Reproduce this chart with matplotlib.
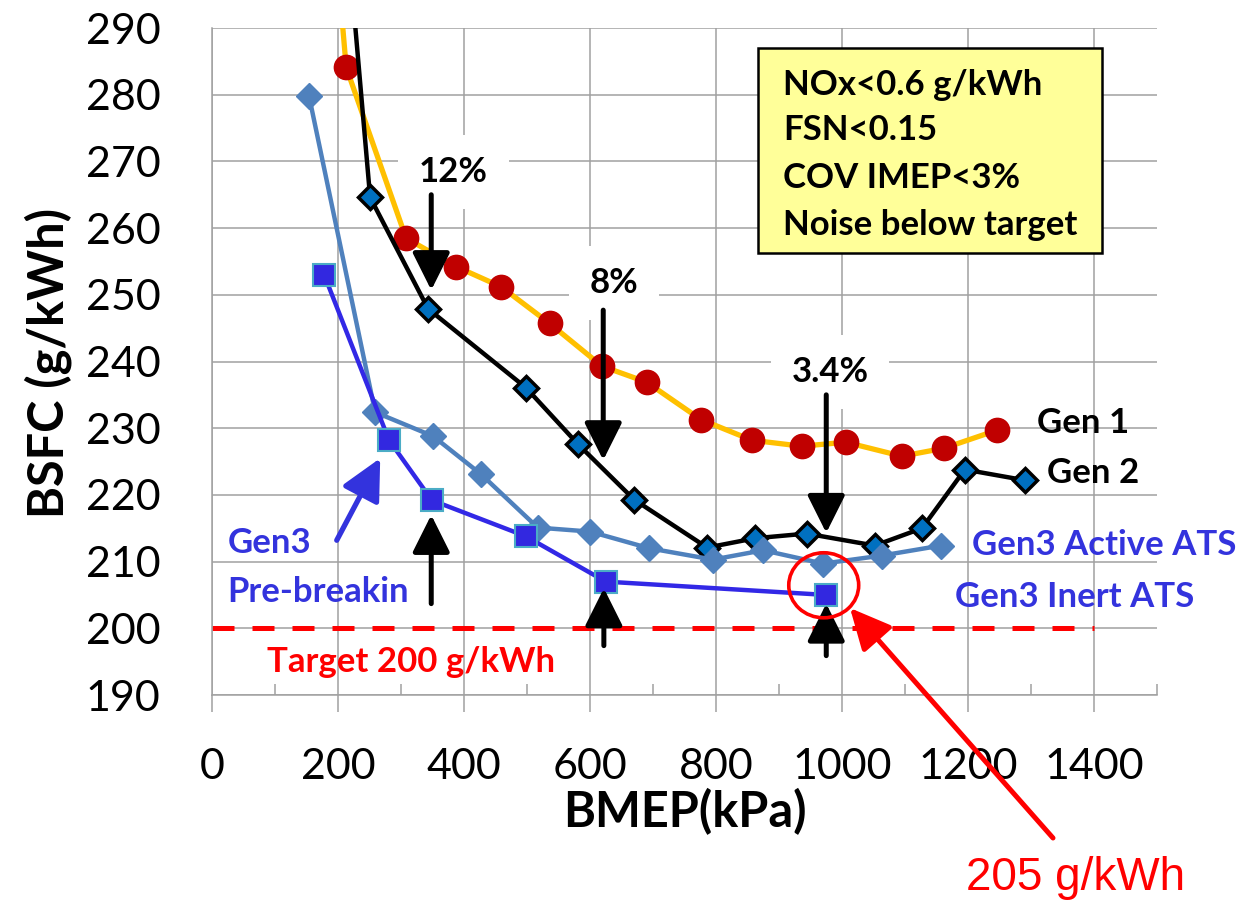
import matplotlib
matplotlib.use("Agg")
import matplotlib.pyplot as plt
from matplotlib.patches import Ellipse, Rectangle
from matplotlib.ticker import MultipleLocator

plt.rcParams['font.family'] = ['Lato', 'DejaVu Sans']

# BSFC vs BMEP for the engine generations
gen1_bmep = [185, 213, 308, 388, 459, 536, 619, 690, 776, 857, 936, 1006, 1095, 1162, 1246]
gen1_bsfc = [315, 284.1, 258.5, 254.2, 251.2, 245.7, 239.3, 236.9, 231.3, 228.2, 227.3, 227.9, 225.8, 227.0, 229.7]

gen2_bmep = [200, 251, 343, 498, 581, 670, 786, 862, 944, 1052, 1127, 1195, 1290]
gen2_bsfc = [320, 264.6, 247.9, 236.1, 227.6, 219.3, 212.1, 213.5, 214.2, 212.4, 215.0, 223.8, 222.2]

active_bmep = [154, 259, 351, 427, 517, 600, 694, 795, 875, 970, 1063, 1157]
active_bsfc = [279.8, 232.4, 228.8, 223.1, 215.1, 214.5, 212.0, 210.3, 211.7, 209.7, 210.9, 212.4]

inert_bmep = [178, 281, 349, 498, 625, 975]
inert_bsfc = [253.0, 228.2, 219.2, 213.8, 207.0, 205]

target_bmep = [0, 200, 400, 600, 800, 1000, 1200, 1400]
target_bsfc = [200] * len(target_bmep)

limits = ["NOx<0.6 g/kWh", "FSN<0.15", "COV IMEP<3%", "Noise below target"]

BLUE_TXT = '#3333DD'
GRID = '#A0A0A0'

fig = plt.figure(figsize=(12.46, 9.0), dpi=100)
ax = fig.add_axes([212 / 1246, 1 - 695 / 900, 945 / 1246, 667 / 900])

# ---- series ----
ax.plot(gen1_bmep, gen1_bsfc, color='#FFC000', lw=3.8, marker='o', ms=17.5,
        mfc='#C00000', mec='#C00000', zorder=3)
ax.plot(gen2_bmep, gen2_bsfc, color='black', lw=3.2, marker='D', ms=12.5,
        mfc='#0070C0', mec='black', mew=2.5, zorder=3)
ax.plot(active_bmep, active_bsfc, color='#4F81BD', lw=3.2, marker='D', ms=13.5,
        mfc='#4F81BD', mec='#4F81BD', zorder=3)
ax.plot(inert_bmep, inert_bsfc, color='#3228E6', lw=3.2, marker='s', ms=16.5,
        mfc='#3228E0', mec='#4BACC6', mew=1.5, zorder=3)
ax.plot(target_bmep, target_bsfc, color='#FF0000', lw=3.6, dashes=(4.4, 3.6), zorder=2.5)

# ---- axes ----
ax.set_xlim(0, 1500)
ax.set_ylim(190, 290)
ax.set_xticks(range(0, 1401, 200))
ax.set_yticks(range(190, 291, 10))
ax.xaxis.set_minor_locator(MultipleLocator(100))
ax.grid(which='major', color=GRID, lw=1.1)
ax.set_axisbelow(True)
for s in ['top', 'right']:
    ax.spines[s].set_visible(False)
for s in ['left', 'bottom']:
    ax.spines[s].set_color(GRID)
    ax.spines[s].set_linewidth(1.1)
ax.tick_params(axis='x', which='major', direction='out', length=12, width=1.1,
               color=GRID, pad=26, labelsize=31)
ax.tick_params(axis='x', which='minor', direction='in', length=8, width=1.1, color=GRID)
ax.tick_params(axis='y', length=0, pad=37, labelsize=31)

fig.text(685 / 1246, 73 / 900, "BMEP(kPa)", ha='center', va='baseline',
         fontsize=35, fontweight='bold')
fig.text(48 / 1246, 1 - 363 / 900, "BSFC (g/kWh)", ha='center', va='center',
         rotation=90, fontsize=35, fontweight='bold')

# ---- arrows ----
def arrow(tail, tip, color='black', lw=3.6, hl=2.3, hw=1.15, **kw):
    ax.annotate('', xy=tip, xytext=tail,
                arrowprops=dict(arrowstyle=f'-|>,head_length={hl},head_width={hw}',
                                lw=lw, color=color, shrinkA=0, shrinkB=0,
                                mutation_scale=10), **kw)

arrow((348, 265.0), (348, 250.7))
arrow((621, 247.7), (621, 225.2))
arrow((975, 235.0), (975, 214.3))
arrow((348, 203.7), (348, 217.0))
arrow((622, 197.4), (622, 206.0))
arrow((975, 195.9), (975, 203.7))
arrow((198, 213.2), (267, 225.5), color=BLUE_TXT, lw=3.8, hl=2.5, hw=1.25)

# reduction labels
pct = dict(ha='center', va='baseline', fontsize=25, fontweight='bold', zorder=1.8,
           bbox=dict(boxstyle='square,pad=0.6', fc='white', ec='none'))
ax.text(383, 266.9, "12%", **pct)
ax.text(638, 250.3, "8%", **pct)
ax.text(981, 236.9, "3.4%", **pct)

# series labels
lab = dict(ha='left', va='baseline', fontsize=25, fontweight='bold')
ax.text(1310, 229.3, "Gen 1", color='black', **lab)
ax.text(1325, 221.8, "Gen 2", color='black', **lab)
ax.text(1206, 211.0, "Gen3 Active ATS", color=BLUE_TXT, **lab)
ax.text(1179, 203.2, "Gen3 Inert ATS", color=BLUE_TXT, **lab)
ax.text(25, 211.3, "Gen3", color=BLUE_TXT, **lab)
ax.text(25, 203.9, "Pre-breakin", color=BLUE_TXT, **lab)
ax.text(87, 193.4, "Target 200 g/kWh", color='#FF0000', **lab)

# emission limits box
ax.add_patch(Rectangle((867, 256.25), 546, 30.75, fc='#FFFF99', ec='black',
                       lw=1.8, zorder=7))
for yb, line in zip([279.95, 273.2, 266.0, 258.95], limits):
    ax.text(906, yb, line, ha='left', va='baseline', fontsize=25,
            fontweight='bold', zorder=8)

# best Gen3 point callout
ax.add_patch(Ellipse((971, 206.45), 111, 9.75, fill=False, ec='#FF0000', lw=2.6, zorder=6))
ax.annotate('', xy=(850, 292), xycoords='figure pixels', xytext=(1053, 62),
            textcoords='figure pixels', annotation_clip=False,
            arrowprops=dict(arrowstyle='-|>,head_length=2.5,head_width=1.2', lw=3.6,
                            color='#FF0000', shrinkA=0, shrinkB=0, mutation_scale=10))
fig.text(1076 / 1246, 10 / 900, f"{inert_bsfc[-1]:.0f} g/kWh", ha='center', va='baseline',
         fontsize=33, color='#FF0000', family='Liberation Sans')

fig.savefig("out.png", dpi=100)
